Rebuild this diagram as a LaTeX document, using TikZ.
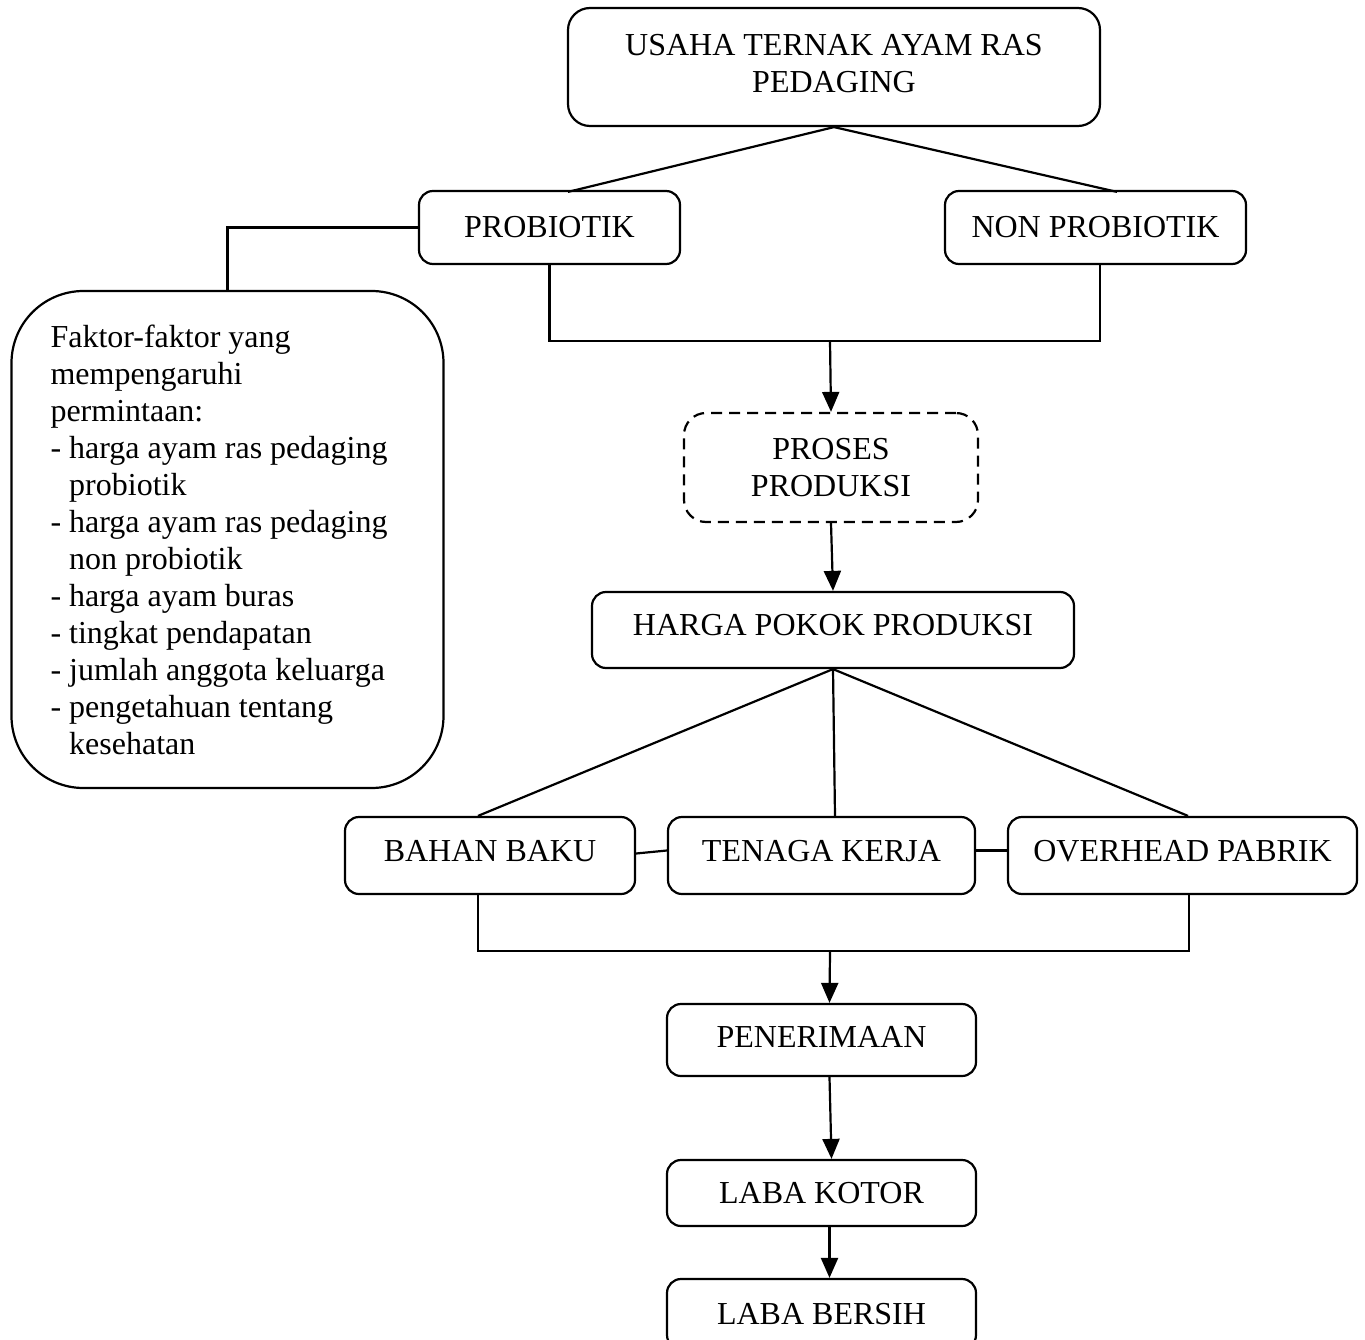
\documentclass[tikz,border=0pt]{standalone}
\usepackage{fontspec}
\setmainfont{Liberation Serif}
\usetikzlibrary{arrows.meta,calc}
\begin{document}
\begin{tikzpicture}[x=1pt,y=-1pt,
  every node/.style={font=\fontsize{32}{37}\selectfont},
  box/.style={draw,line width=2.2pt,rounded corners=14pt,inner sep=0pt,align=center},
  ln/.style={line width=2.2pt},
  arr/.style={line width=2.2pt,-{Triangle[length=20pt,width=17pt]}}]
\useasboundingbox (0,0) rectangle (1365,1340);
\node[box,rounded corners=22pt,minimum width=532pt,minimum height=118pt,text depth=8pt] (top) at (834,67) {USAHA TERNAK AYAM RAS\\PEDAGING};
\node[box,minimum width=261pt,minimum height=73pt] (prob) at (549.5,227.5) {PROBIOTIK};
\node[box,minimum width=301pt,minimum height=73pt] (nonprob) at (1095.5,227.5) {NON PROBIOTIK};
\node[box,rounded corners=72pt,minimum width=432pt,minimum height=497pt,text width=354pt,align=left] (faktor) at (227.5,539.5) {\spaceskip=0pt\xspaceskip=0pt\relax Faktor-faktor yang\\mempengaruhi\\permintaan:\\- harga ayam ras pedaging\\\hspace*{18.7pt}probiotik\\- harga ayam ras pedaging\\\hspace*{18.7pt}non probiotik\\- harga ayam buras\\- tingkat pendapatan\\- jumlah anggota keluarga\\- pengetahuan tentang\\\hspace*{18.7pt}kesehatan};
\node[box,dashed,dash pattern=on 11pt off 7pt,rounded corners=22pt,minimum width=294pt,minimum height=109pt] (proses) at (831,467.5) {PROSES\\PRODUKSI};
\node[box,minimum width=482pt,minimum height=76pt,text depth=10pt] (harga) at (833,630) {HARGA POKOK PRODUKSI};
\node[box,minimum width=290pt,minimum height=77pt,text depth=10pt] (bahan) at (490,855.5) {BAHAN BAKU};
\node[box,minimum width=307pt,minimum height=77pt,text depth=10pt] (tenaga) at (821.5,855.5) {TENAGA KERJA};
\node[box,minimum width=349pt,minimum height=77pt,text depth=10pt] (overhead) at (1182.5,855.5) {OVERHEAD PABRIK};
\node[box,minimum width=309pt,minimum height=72pt,text depth=6pt] (pener) at (821.5,1040) {PENERIMAAN};
\node[box,minimum width=309pt,minimum height=66pt] (kotor) at (821.5,1193) {LABA KOTOR};
\node[box,minimum width=309pt,minimum height=70pt] (bersih) at (821.5,1314) {LABA BERSIH};
\coordinate (j1) at (830,341);
\coordinate (j2) at (830,951);
% top branches
\draw[ln] (top.south) -- ([xshift=18.5pt,yshift=-2pt]prob.north);
\draw[ln] (top.south) -- ([xshift=21.5pt,yshift=-2pt]nonprob.north);
% probiotik to faktor
\draw[ln] (prob.west) -| (faktor.north);
% bracket
\draw[ln] (prob.south) |- (j1) -| ([xshift=4.5pt]nonprob.south);
\draw[arr] (j1) -- (proses.north);
\draw[arr] (proses.south) -- (harga.north);
% cost branches
\draw[ln] (harga.south) -- ([xshift=-12pt]bahan.north);
\draw[ln] (harga.south) -- ([xshift=13.5pt]tenaga.north);
\draw[ln] (harga.south) -- ([xshift=5.5pt]overhead.north);
\draw[ln] ([yshift=2pt]bahan.east) -- ([yshift=5pt]tenaga.west);
\draw[ln] ([yshift=5pt]tenaga.east) -- ([yshift=5pt]overhead.west);
\draw[ln] ([xshift=-12pt]bahan.south) |- (j2) -| ([xshift=6.5pt]overhead.south);
\draw[arr] (j2) -- ([xshift=8pt]pener.north);
\draw[arr] ([xshift=8pt]pener.south) -- ([xshift=10pt]kotor.north);
\draw[arr] ([xshift=8pt]kotor.south) -- ([xshift=8pt]bersih.north);
\end{tikzpicture}
\end{document}
